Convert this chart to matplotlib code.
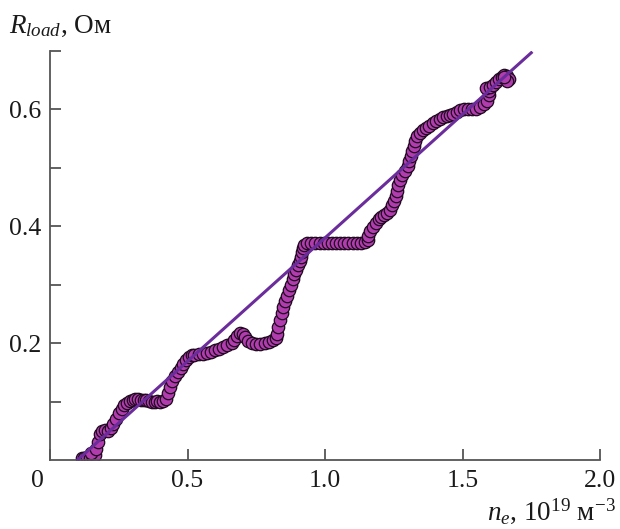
import matplotlib
matplotlib.use("Agg")
import matplotlib.pyplot as plt
import matplotlib.transforms as mtransforms

# ---- data ----
ne = [0.115, 0.125, 0.135, 0.145, 0.155, 0.162, 0.150, 0.168, 0.175, 0.180, 0.190,
      0.200, 0.210, 0.220, 0.230, 0.240, 0.250, 0.260, 0.270, 0.280, 0.290, 0.300,
      0.310, 0.320, 0.330, 0.340, 0.350, 0.360, 0.370, 0.380, 0.390, 0.400, 0.410,
      0.420, 0.428, 0.435, 0.445, 0.455, 0.465, 0.475, 0.485, 0.495, 0.505, 0.515,
      0.525, 0.540, 0.555, 0.570, 0.585, 0.600, 0.615, 0.630, 0.645, 0.660, 0.670,
      0.680, 0.690, 0.700, 0.710, 0.720, 0.735, 0.750, 0.765, 0.780, 0.795, 0.810,
      0.820, 0.826, 0.830, 0.835, 0.842, 0.848, 0.855, 0.862, 0.868, 0.875, 0.882,
      0.888, 0.895, 0.902, 0.908, 0.912, 0.915, 0.920, 0.925, 0.935, 0.950, 0.965,
      0.980, 0.995, 1.010, 1.025, 1.040, 1.055, 1.070, 1.085, 1.100, 1.115, 1.130,
      1.145, 1.155, 1.158, 1.165, 1.175, 1.185, 1.195, 1.205, 1.215, 1.225, 1.235,
      1.245, 1.252, 1.258, 1.262, 1.267, 1.273, 1.280, 1.290, 1.300, 1.307, 1.312,
      1.317, 1.322, 1.327, 1.335, 1.345, 1.355, 1.367, 1.380, 1.392, 1.405, 1.418,
      1.430, 1.443, 1.455, 1.467, 1.480, 1.492, 1.505, 1.520, 1.535, 1.550, 1.565,
      1.578, 1.590, 1.598, 1.595, 1.585, 1.600, 1.612, 1.622, 1.632, 1.642, 1.652,
      1.662, 1.668, 1.660, 1.650]
r_load = [0.004, 0.003, 0.005, 0.003, 0.004, 0.008, 0.012, 0.018, 0.030, 0.045, 0.050,
          0.052, 0.050, 0.055, 0.062, 0.070, 0.080, 0.088, 0.094, 0.098, 0.101, 0.103,
          0.104, 0.104, 0.103, 0.103, 0.102, 0.101, 0.100, 0.100, 0.101, 0.100, 0.101,
          0.105, 0.115, 0.125, 0.135, 0.143, 0.150, 0.158, 0.165, 0.171, 0.176, 0.179,
          0.180, 0.181, 0.182, 0.183, 0.185, 0.188, 0.190, 0.193, 0.196, 0.200, 0.206,
          0.213, 0.218, 0.216, 0.210, 0.204, 0.200, 0.199, 0.199, 0.200, 0.202, 0.205,
          0.208, 0.215, 0.228, 0.240, 0.252, 0.262, 0.272, 0.281, 0.291, 0.300, 0.309,
          0.318, 0.326, 0.333, 0.340, 0.348, 0.356, 0.363, 0.368, 0.371, 0.372, 0.371,
          0.371, 0.371, 0.371, 0.371, 0.371, 0.371, 0.371, 0.371, 0.371, 0.372, 0.372,
          0.373, 0.376, 0.384, 0.392, 0.399, 0.406, 0.412, 0.416, 0.419, 0.423, 0.428,
          0.436, 0.444, 0.452, 0.461, 0.470, 0.479, 0.487, 0.495, 0.503, 0.511, 0.520,
          0.529, 0.538, 0.546, 0.554, 0.560, 0.565, 0.569, 0.572, 0.576, 0.580, 0.584,
          0.587, 0.589, 0.591, 0.593, 0.596, 0.599, 0.601, 0.601, 0.600, 0.601, 0.604,
          0.609, 0.615, 0.624, 0.632, 0.636, 0.638, 0.641, 0.647, 0.652, 0.656, 0.659,
          0.657, 0.652, 0.648, 0.655]
fit_x = [0.10, 1.75]
fit_y = [0.0, 0.697]

x_ticks = [0, 0.5, 1.0, 1.5, 2.0]
x_ticklabels = ["0", "0.5", "1.0", "1.5", "2.0"]
y_ticks = [0.1, 0.2, 0.3, 0.4, 0.5, 0.6, 0.7]
y_ticklabels = ["", "0.2", "", "0.4", "", "0.6", ""]

# ---- style ----
plt.rcParams['font.family'] = ['Liberation Serif', 'DejaVu Serif']
plt.rcParams['mathtext.fontset'] = 'custom'
plt.rcParams['mathtext.rm'] = 'Liberation Serif'
plt.rcParams['mathtext.it'] = 'Liberation Serif:italic'

fig = plt.figure(figsize=(6.2, 5.29), dpi=100)
ax = fig.add_axes([50 / 620, 69 / 529, 550 / 620, 409 / 529])

ax.scatter(ne, r_load, s=80, facecolor='#b03cae', edgecolor='#1e0a1e',
           linewidths=0.9, zorder=2, clip_on=True)
ax.plot(fit_x, fit_y, color='#6b2c9c', lw=2.2, zorder=3)

ax.set_xlim(0, 2.0)
ax.set_ylim(0, 0.7)
ax.set_xticks(x_ticks)
ax.set_xticklabels(x_ticklabels)
ax.set_yticks(y_ticks)
ax.set_yticklabels(y_ticklabels)

for s in ['top', 'right']:
    ax.spines[s].set_visible(False)
for s in ['left', 'bottom']:
    ax.spines[s].set_color('#555555')
    ax.spines[s].set_linewidth(1.3)

ax.tick_params(direction='in', length=8, width=1.3, color='#555555',
               labelsize=18.5, labelcolor='#1a1a1a')
ax.tick_params(axis='x', pad=7)
ax.tick_params(axis='y', pad=6)

# shift the "0" label slightly left as in the reference
lbl0 = ax.get_xticklabels()[0]
lbl0.set_transform(lbl0.get_transform() +
                   mtransforms.ScaledTranslation(-13 / 100, 0, fig.dpi_scale_trans))

fig.text(9 / 620, 1 - 26 / 529, r'$R_{load}$, Ом', fontsize=19.5,
         ha='left', va='center', color='#1a1a1a')
fig.text(616 / 620, 1 - 511 / 529, r'$n_e$, 10$^{19}$ м$^{-3}$', fontsize=19.5,
         ha='right', va='center', color='#1a1a1a')

fig.savefig('out.png', dpi=100)
